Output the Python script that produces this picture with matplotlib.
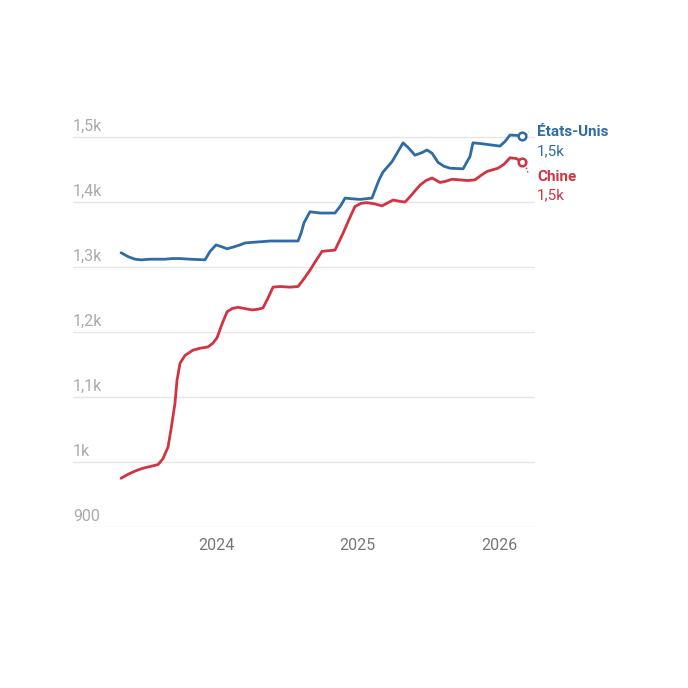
import numpy as np
import matplotlib
matplotlib.use("Agg")
from matplotlib import pyplot as plt
from matplotlib.transforms import blended_transform_factory

plt.rcParams['font.family'] = ['Roboto', 'DejaVu Sans']

# États-Unis (x as decimal years, y in points)
us_x = [2023.329, 2023.378, 2023.428, 2023.470, 2023.534, 2023.583, 2023.640, 2023.689,
        2023.746, 2023.816, 2023.922, 2023.958, 2024.000, 2024.042, 2024.078, 2024.127,
        2024.170, 2024.205, 2024.261, 2024.325, 2024.382, 2024.452, 2024.523, 2024.580,
        2024.601, 2024.622, 2024.664, 2024.735, 2024.841, 2024.883, 2024.912, 2024.961,
        2025.018, 2025.102, 2025.152, 2025.180, 2025.216, 2025.244, 2025.279, 2025.322,
        2025.357, 2025.406, 2025.456, 2025.491, 2025.527, 2025.569, 2025.611, 2025.654,
        2025.746, 2025.795, 2025.816, 2025.866, 2025.936, 2026.007, 2026.042, 2026.078,
        2026.163]
us_y = [1322, 1316, 1312, 1311, 1312, 1312, 1312, 1313,
        1313, 1312, 1311, 1324, 1334, 1331, 1328, 1331,
        1334, 1337, 1338, 1339, 1340, 1340, 1340, 1340,
        1352, 1368, 1385, 1383, 1383, 1395, 1406, 1405,
        1404, 1406, 1434, 1446, 1455, 1462, 1475, 1491,
        1484, 1472, 1476, 1480, 1475, 1461, 1455, 1452,
        1451, 1470, 1491, 1490, 1488, 1486, 1493, 1503,
        1502]

# Chine
cn_x = [2023.329, 2023.378, 2023.428, 2023.477, 2023.534, 2023.590, 2023.625, 2023.661,
        2023.682, 2023.696, 2023.710, 2023.724, 2023.746, 2023.781, 2023.837, 2023.887,
        2023.943, 2023.979, 2024.007, 2024.042, 2024.078, 2024.113, 2024.155, 2024.205,
        2024.254, 2024.297, 2024.332, 2024.367, 2024.403, 2024.452, 2024.523, 2024.580,
        2024.622, 2024.664, 2024.707, 2024.749, 2024.792, 2024.841, 2024.898, 2024.940,
        2024.982, 2025.025, 2025.067, 2025.124, 2025.173, 2025.216, 2025.251, 2025.300,
        2025.336, 2025.371, 2025.406, 2025.442, 2025.484, 2025.527, 2025.583, 2025.625,
        2025.668, 2025.724, 2025.781, 2025.830, 2025.873, 2025.915, 2025.993, 2026.035,
        2026.078, 2026.120, 2026.163]
cn_y = [975, 981, 986, 990, 993, 996, 1005, 1023,
        1050, 1070, 1090, 1125, 1152, 1164, 1172, 1175,
        1177, 1183, 1191, 1212, 1231, 1236, 1238, 1236,
        1234, 1235, 1237, 1252, 1269, 1270, 1269, 1270,
        1282, 1295, 1310, 1324, 1325, 1326, 1352, 1373,
        1393, 1398, 1399, 1397, 1394, 1399, 1403, 1401,
        1400, 1408, 1417, 1426, 1433, 1437, 1430, 1432,
        1435, 1434, 1433, 1434, 1441, 1447, 1452, 1458,
        1468, 1467, 1462]

blue = '#2f6ba4'
red = '#d13341'
y_ticks = [900, 1000, 1100, 1200, 1300, 1400, 1500]
y_labels = ['900', '1k', '1,1k', '1,2k', '1,3k', '1,4k', '1,5k']
x_ticks = [2024, 2025, 2026]

W = 688
fig = plt.figure(figsize=(6.88, 6.88), dpi=100)
ax = fig.add_axes([73 / W, 1 - 527 / W, (535 - 73) / W, (527 - 98) / W])
ax.set_xlim(2024 + (73 - 216) / 141.5, 2024 + (535 - 216) / 141.5)
ax.set_ylim(900, 1560)
for s in ax.spines.values():
    s.set_visible(False)
ax.set_yticks([])
ax.set_xticks(x_ticks)
ax.set_xticklabels([str(t) for t in x_ticks], color='#777777', fontsize=11.5)
ax.tick_params(axis='x', length=0, pad=8)

trans = blended_transform_factory(ax.transAxes, ax.transData)
for v, lab in zip(y_ticks, y_labels):
    ax.axhline(v, color='#e6e6e6', lw=1, zorder=0)
    ax.text(0, v + 5, lab, transform=trans, ha='left', va='bottom', color='#aaaaaa', fontsize=11.5)

ax.plot(us_x, us_y, color=blue, lw=2.0, solid_joinstyle='round', solid_capstyle='round', clip_on=False)
ax.plot(cn_x, cn_y, color=red, lw=2.0, solid_joinstyle='round', solid_capstyle='round', clip_on=False)

ax.plot(us_x[-1], us_y[-1], 'o', ms=5.5, mfc='white', mec=blue, mew=1.8, clip_on=False, zorder=5)
ax.plot(cn_x[-1], cn_y[-1], 'o', ms=5.5, mfc='white', mec=red, mew=1.8, clip_on=False, zorder=5)

# dotted leaders to the labels
ax.plot([us_x[-1] + 0.03, 2026.21], [us_y[-1] + 1, 1508], color=blue, lw=1, ls=':', clip_on=False)
ax.plot([cn_x[-1] + 0.02, 2026.21], [cn_y[-1] - 4, 1442], color=red, lw=1, ls=':', clip_on=False)

lx = 2024 + (537 - 216) / 141.5
ax.text(lx, 1507, 'États-Unis', color=blue, fontsize=11, fontweight='bold', va='center', ha='left', clip_on=False)
ax.text(lx, 1478, '1,5k', color=blue, fontsize=11, va='center', ha='left', clip_on=False)
ax.text(lx, 1439, 'Chine', color=red, fontsize=11, fontweight='bold', va='center', ha='left', clip_on=False)
ax.text(lx, 1410, '1,5k', color=red, fontsize=11, va='center', ha='left', clip_on=False)

fig.savefig('out.png', dpi=100, facecolor='white')
